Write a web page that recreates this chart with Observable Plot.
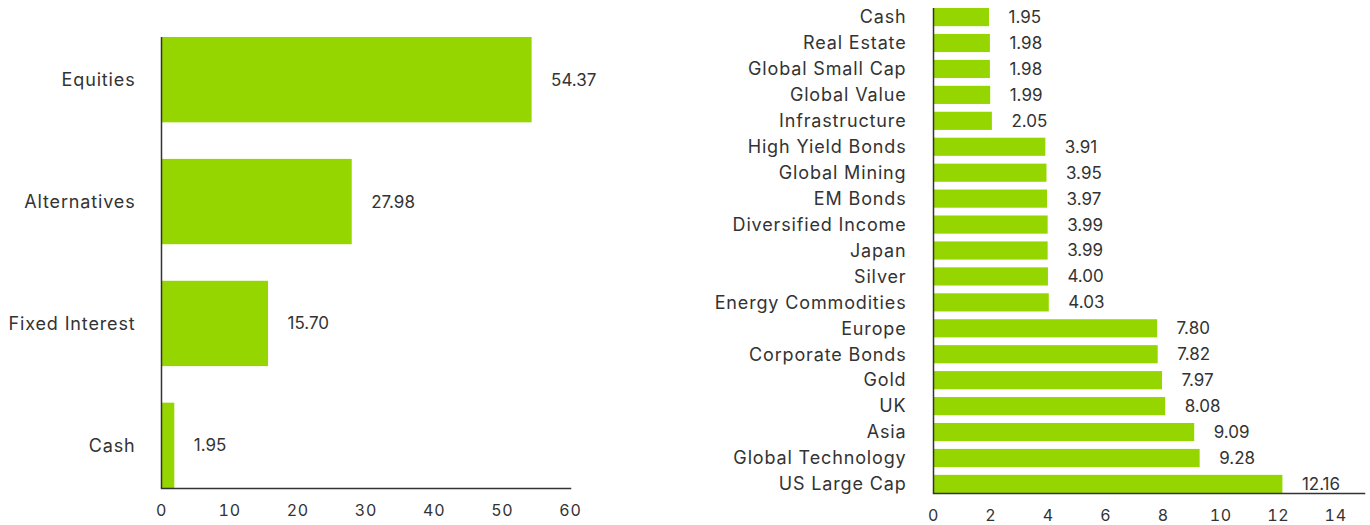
<!DOCTYPE html>
<html><head><meta charset="utf-8">
<script src="https://cdn.jsdelivr.net/npm/d3@7"></script>
<script src="https://cdn.jsdelivr.net/npm/@observablehq/plot@0.6"></script>
<style>
body{margin:0;background:#fff;}
#wrap{position:relative;width:1370px;height:525px;}
#left{position:absolute;left:0;top:0;}
#right{position:absolute;left:640px;top:0;}
#wrap g[aria-label="y-axis tick label"] {letter-spacing:0.85px;}
#wrap g[aria-label="x-axis tick label"] {letter-spacing:0.8px;}
</style></head><body><div id="wrap"><div id="left"></div><div id="right"></div></div>
<script>
const assetClasses = ["Equities", "Alternatives", "Fixed Interest", "Cash"];
const assetWeights = [54.37, 27.98, 15.70, 1.95];
const holdings = ["Cash", "Real Estate", "Global Small Cap", "Global Value", "Infrastructure",
  "High Yield Bonds", "Global Mining", "EM Bonds", "Diversified Income", "Japan", "Silver",
  "Energy Commodities", "Europe", "Corporate Bonds", "Gold", "UK", "Asia", "Global Technology", "US Large Cap"];
const holdingWeights = [1.95, 1.98, 1.98, 1.99, 2.05, 3.91, 3.95, 3.97, 3.99, 3.99, 4.00,
  4.03, 7.80, 7.82, 7.97, 8.08, 9.09, 9.28, 12.16];
const leftTicks = [0, 10, 20, 30, 40, 50, 60];
const rightTicks = [0, 2, 4, 6, 8, 10, 12, 14];

const GREEN = "#95d600";
const INK = "#333333";
const FONT = "Inter, Lato, sans-serif";

function chart(names, values, ticks, opts) {
  const data = names.map((n, i) => ({name: n, value: values[i]}));
  return Plot.plot({
    width: opts.width,
    height: 525,
    marginLeft: opts.marginLeft,
    marginRight: opts.marginRight,
    marginTop: opts.marginTop,
    marginBottom: opts.marginBottom,
    style: {fontFamily: FONT, fontSize: "17px", color: INK, background: "#fff"},
    x: {domain: opts.xDomain, ticks: ticks, label: null},
    y: {domain: names, paddingInner: 0.3, paddingOuter: 0, round: false, label: null},
    marks: [
      Plot.barX(data, {x: "value", y: "name", fill: GREEN}),
      Plot.text(data, {x: "value", y: "name", text: d => d.value.toFixed(2), dx: 19,
        textAnchor: "start", fill: INK, fontSize: 17}),
      Plot.ruleX([0], {stroke: INK, strokeWidth: 1.5}),
      Plot.frame({anchor: "bottom", stroke: INK, strokeWidth: 1.5}),
      Plot.axisX({ticks: ticks, tickSize: 0, tickPadding: 16, label: null, fill: INK, fontSize: 16}),
      Plot.axisY({tickSize: 0, tickPadding: opts.yPad, label: null, fill: INK, fontSize: 18})
    ]
  });
}

document.getElementById("left").append(chart(assetClasses, assetWeights, leftTicks, {
  width: 640, marginLeft: 161, marginRight: 70, marginTop: 37, marginBottom: 37,
  xDomain: [0, 60], yPad: 26
}));
document.getElementById("right").append(chart(holdings, holdingWeights, rightTicks, {
  width: 730, marginLeft: 293, marginRight: 6, marginTop: 8, marginBottom: 32,
  xDomain: [0, 15], yPad: 27
}));
</script></body></html>
